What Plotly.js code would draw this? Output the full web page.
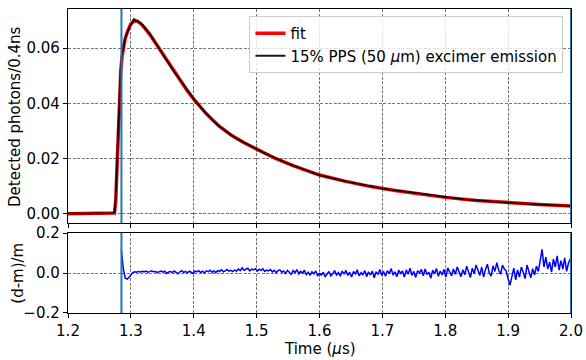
<!DOCTYPE html>
<html>
<head>
<meta charset="utf-8">
<script src="https://cdn.plot.ly/plotly-3.0.1.min.js"></script>
<style>html,body{margin:0;padding:0;background:#fff;}#chart{width:586px;height:360px;}</style>
</head>
<body>
<div id="chart"></div>
<script>
// ---- data ----
const fitX = [1.200,1.270,1.274,1.276,1.278,1.280,1.282,1.284,1.286,1.288,1.291,1.295,1.300,1.305,1.310,1.315,1.320,1.330,1.340,1.350,1.360,1.370,1.380,1.390,1.400,1.420,1.440,1.460,1.480,1.500,1.530,1.560,1.600,1.640,1.680,1.720,1.760,1.800,1.850,1.900,1.950,2.000];
const fitY = [0.0000,0.0000,0.0002,0.0050,0.0180,0.0320,0.0440,0.0520,0.0570,0.0605,0.0635,0.0662,0.0688,0.0699,0.0698,0.0690,0.0679,0.0650,0.0616,0.0580,0.0545,0.0510,0.0477,0.0445,0.0415,0.0362,0.0318,0.0284,0.0257,0.0234,0.0200,0.0172,0.0140,0.0118,0.0099,0.0084,0.0071,0.0059,0.0048,0.0040,0.0033,0.0028];

const dataX = [1.20,1.21,1.22,1.23,1.24,1.25,1.26,1.27,1.274,1.276,1.278,1.280,1.282,1.284,1.286,1.288,1.290,1.293,1.296,1.299,1.302,1.305,1.308,1.311,1.314,1.317,1.320,1.325,1.330,1.335,1.340,1.345,1.350,1.355,1.360,1.365,1.370,1.375,1.380,1.385,1.390,1.395,1.400,
  1.41,1.42,1.43,1.44,1.45,1.46,1.47,1.48,1.49,1.50,1.51,1.52,1.53,1.54,1.55,1.56,1.57,1.58,1.59,1.60,
  1.61,1.62,1.63,1.64,1.65,1.66,1.67,1.68,1.69,1.70,1.71,1.72,1.73,1.74,1.75,1.76,1.77,1.78,1.79,1.80,
  1.81,1.82,1.83,1.84,1.85,1.86,1.87,1.88,1.89,1.90,1.91,1.92,1.93,1.94,1.95,1.96,1.97,1.98,1.99,2.00];
const dataY = [0.0001,0.0000,0.0001,0.0000,0.0001,0.0001,0.0000,0.0002,0.0004,0.0060,0.0190,0.0330,0.0450,0.0530,0.0580,0.0610,0.0625,0.0650,0.0670,0.0682,0.0690,0.0707,0.0697,0.0699,0.0692,0.0688,0.0680,0.0667,0.0652,0.0634,0.0618,0.0598,0.0582,0.0562,0.0547,0.0527,0.0511,0.0492,0.0478,0.0460,0.0446,0.0429,0.0416,
  0.0388,0.0363,0.0339,0.0318,0.0300,0.0284,0.0270,0.0257,0.0245,0.0234,0.0222,0.0211,0.0201,0.0191,0.0181,0.0173,0.0164,0.0156,0.0147,0.0140,
  0.0134,0.0128,0.0123,0.0118,0.0113,0.0108,0.0104,0.0099,0.0095,0.0091,0.0088,0.0084,0.0081,0.0077,0.0074,0.0071,0.0068,0.0065,0.0062,0.0059,
  0.0057,0.0055,0.0052,0.0050,0.0048,0.0046,0.0045,0.0043,0.0041,0.0040,0.0038,0.0037,0.0035,0.0034,0.0033,0.0032,0.0031,0.0030,0.0029,0.0028];

// residual (d-m)/m, sampled every 3 ns from 1.285 us
const residStart = 1.285;
const residStep = 0.003;
const residY = [
  0.110, 0.020,-0.025,-0.030,-0.022,-0.012, 0.002, 0.006, 0.004, 0.008,
  0.005, 0.009, 0.006, 0.010, 0.004, 0.007, 0.011, 0.006, 0.008, 0.003,
  0.007, 0.010, 0.004, 0.009,-0.002, 0.006, 0.008, 0.002, 0.010, 0.005,
 -0.004, 0.006, 0.012, 0.003, 0.008, 0.001, 0.009, 0.004,-0.002, 0.010,
  0.006, 0.012, 0.003, 0.009, 0.000, 0.011, 0.007, 0.014, 0.004, 0.010,
  0.002, 0.012, 0.008, 0.016, 0.006, 0.011, 0.018, 0.009, 0.013, 0.007,
  0.015, 0.010, 0.020, 0.012, 0.026, 0.014, 0.018, 0.024, 0.011, 0.020,
  0.016, 0.022, 0.010, 0.019, 0.013, 0.021, 0.008, 0.015, 0.011, 0.018,
  0.006, 0.014, 0.002, 0.012, 0.016, 0.004, 0.010,-0.002, 0.013, 0.005,
 -0.006, 0.012, 0.002, 0.017,-0.004, 0.008, 0.000, 0.014,-0.008, 0.004,
 -0.012, 0.006,-0.004, 0.010,-0.015,-0.002,-0.010, 0.004,-0.018,-0.006,
  0.008,-0.014,-0.004, 0.012,-0.010, 0.002,-0.016, 0.010,-0.006, 0.014,
 -0.012, 0.004,-0.020, 0.008,-0.004, 0.016,-0.014, 0.002,-0.008, 0.012,
 -0.018, 0.006,-0.010, 0.010,-0.024, 0.004,-0.006, 0.018,-0.012, 0.008,
 -0.016, 0.012,-0.004, 0.022,-0.010, 0.006,-0.018, 0.014,-0.002, 0.010,
 -0.020, 0.016,-0.006, 0.024,-0.012, 0.008,-0.022, 0.012, 0.000, 0.018,
 -0.014, 0.020,-0.008, 0.004,-0.026, 0.014,-0.004, 0.022,-0.016, 0.010,
 -0.010, 0.018,-0.020, 0.026, 0.002,-0.014, 0.020,-0.006, 0.030, 0.004,
 -0.018, 0.016,-0.008, 0.034, 0.006,-0.022, 0.024,-0.004, 0.040, 0.010,
 -0.012, 0.030,-0.020, 0.018, 0.044, 0.002,-0.016, 0.036, 0.008, 0.052,
  0.014,-0.006, 0.040, 0.020, 0.010,-0.030,-0.060,-0.018, 0.024,-0.034,
  0.016,-0.020, 0.030, 0.004,-0.028, 0.040, 0.010,-0.024, 0.022,-0.010,
  0.034, 0.008, 0.062, 0.118, 0.030, 0.080, 0.020, 0.054, 0.004, 0.070,
  0.030, 0.086, 0.014, 0.062, 0.020, 0.076, 0.008, 0.050, 0.070];
const residX = residY.map((_, i) => +(residStart + i * residStep).toFixed(4));

const fitRange = [1.285, 2.0];   // vertical markers of the fit window
const xTicks = [1.2,1.3,1.4,1.5,1.6,1.7,1.8,1.9,2.0];
const yTicksTop = [0, 0.02, 0.04, 0.06];
const yTicksBot = [-0.2, 0.0, 0.2];

const FONT = 'DejaVu Sans, sans-serif';
const BLUE = '#1f77b4';

const traces = [
  {x: fitX, y: fitY, type: 'scatter', mode: 'lines', name: 'fit',
   line: {color: '#ff0000', width: 3.5}, xaxis: 'x', yaxis: 'y'},
  {x: dataX, y: dataY, type: 'scatter', mode: 'lines', name: '15% PPS (50 <i>μ</i>m) excimer emission',
   line: {color: '#000000', width: 1.8}, opacity: 0.9, xaxis: 'x', yaxis: 'y'},
  {x: residX, y: residY, type: 'scatter', mode: 'lines', showlegend: false,
   line: {color: '#0000ff', width: 1.5}, xaxis: 'x2', yaxis: 'y2'}
];

const axBase = {
  showline: true, linecolor: '#000', linewidth: 1.2, mirror: true,
  ticks: 'outside', ticklen: 4, tickwidth: 1, tickcolor: '#000',
  zeroline: false, tickfont: {family: FONT, size: 15, color: '#000'},
  showgrid: true, gridcolor: '#555', griddash: '3px,1.5px', gridwidth: 0.8
};

const shapes = [];
fitRange.forEach(v => {
  shapes.push({type: 'line', xref: 'x', yref: 'y domain', x0: v, x1: v, y0: 0, y1: 1,
               line: {color: BLUE, width: 2}});
  shapes.push({type: 'line', xref: 'x2', yref: 'y2 domain', x0: v, x1: v, y0: 0, y1: 1,
               line: {color: BLUE, width: 2}});
});

const titleFont = {family: FONT, size: 15, color: '#000'};
const annotations = [
  {text: 'Detected photons/0.4ns', xref: 'paper', yref: 'paper', x: -0.1054, y: 0.648,
   xanchor: 'center', yanchor: 'middle', textangle: -90, showarrow: false, font: titleFont},
  {text: '(d-m)/m', xref: 'paper', yref: 'paper', x: -0.1, y: 0.1316,
   xanchor: 'center', yanchor: 'middle', textangle: -90, showarrow: false, font: titleFont},
  {text: 'Time (<i>μ</i>s)', xref: 'paper', yref: 'paper', x: 0.5, y: -0.085,
   xanchor: 'center', yanchor: 'top', showarrow: false, font: titleFont, borderpad: 0}
];

const layout = {
  width: 586, height: 360,
  margin: {l: 68, r: 15, t: 9, b: 47},
  paper_bgcolor: '#fff', plot_bgcolor: '#fff',
  font: {family: FONT, color: '#000'},
  showlegend: true,
  legend: {x: 0.985, y: 0.977, xanchor: 'right', yanchor: 'top',
           bgcolor: 'rgba(255,255,255,0.8)', bordercolor: '#ccc', borderwidth: 1,
           font: {family: FONT, size: 15, color: '#000'}, tracegroupgap: 0, itemwidth: 30},
  xaxis: Object.assign({}, axBase, {domain: [0, 1], anchor: 'y', range: [1.2, 2.0],
           tickvals: xTicks, showticklabels: false}),
  yaxis: Object.assign({}, axBase, {domain: [0.296, 1], anchor: 'x', range: [-0.0034, 0.0742],
           tickvals: yTicksTop, tickformat: '.2f'}),
  xaxis2: Object.assign({}, axBase, {domain: [0, 1], anchor: 'y2', range: [1.2, 2.0],
           tickvals: xTicks, tickformat: '.1f', matches: 'x'}),
  yaxis2: Object.assign({}, axBase, {domain: [0, 0.263], anchor: 'x2', range: [-0.2, 0.2],
           tickvals: yTicksBot, tickformat: '.1f'}),
  shapes: shapes,
  annotations: annotations
};

Plotly.newPlot('chart', traces, layout, {displayModeBar: false, staticPlot: true});
</script>
</body>
</html>
